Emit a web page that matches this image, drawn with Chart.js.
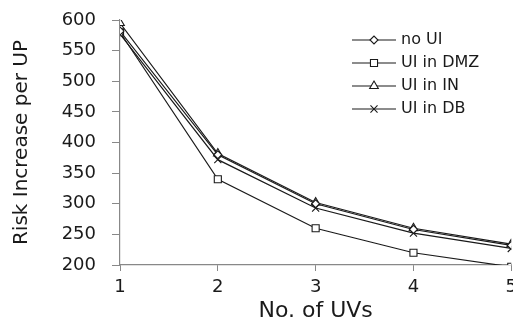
<!DOCTYPE html>
<html>
<head>
<meta charset="utf-8">
<script src="https://cdn.jsdelivr.net/npm/chart.js@4"></script>
<style>
  html, body { margin: 0; padding: 0; background: #fff; overflow: hidden; }
  #wrap { width: 523px; height: 321px; }
</style>
</head>
<body>
<div id="wrap"><canvas id="riskChart"></canvas></div>
<script>
// chart data
const uvCounts = [1, 2, 3, 4, 5];
const noUI    = [582, 380, 300, 258, 232];
const uiDMZ   = [580, 340, 260, 220, 197];
const uiIN    = [595, 382, 302, 260, 234];
const uiDB    = [577, 372, 293, 252, 227];
const seriesNames = ['no UI', 'UI in DMZ', 'UI in IN', 'UI in DB'];
const yTicks = [200, 250, 300, 350, 400, 450, 500, 550, 600];

const FONT = '"DejaVu Sans", sans-serif';
const ink = '#1a1a1a';

const mk = (label, values, style) => ({
  label,
  data: uvCounts.map((x, i) => ({ x, y: values[i] })),
  borderColor: ink,
  borderWidth: 1.2,
  pointStyle: style,
  pointRadius: style === 'rectRot' ? 4 : 5,
  pointBackgroundColor: '#fff',
  pointBorderColor: ink,
  pointBorderWidth: 1.1,
  tension: 0,
  fill: false
});

// legend drawn inside the plot area, like the original figure
const insideLegend = {
  id: 'insideLegend',
  afterDraw(chart) {
    const ctx = chart.ctx;
    const rows = [40, 63, 86, 109];
    ctx.save();
    chart.data.datasets.forEach((ds, i) => {
      const y = rows[i];
      ctx.strokeStyle = ink;
      ctx.lineWidth = 1.2;
      ctx.beginPath();
      ctx.moveTo(352, y);
      ctx.lineTo(396, y);
      ctx.stroke();
      ctx.fillStyle = '#fff';
      ctx.lineWidth = 1.1;
      Chart.helpers.drawPoint(ctx, { pointStyle: ds.pointStyle, radius: ds.pointRadius, borderWidth: 1.1 }, 374, y);
      ctx.fillStyle = ink;
      ctx.font = '16px ' + FONT;
      ctx.textBaseline = 'middle';
      ctx.textAlign = 'left';
      ctx.fillText(ds.label, 401, y);
    });
    ctx.restore();
  }
};

new Chart(document.getElementById('riskChart'), {
  type: 'line',
  data: {
    datasets: [
      mk(seriesNames[0], noUI, 'rectRot'),
      mk(seriesNames[1], uiDMZ, 'rect'),
      mk(seriesNames[2], uiIN, 'triangle'),
      mk(seriesNames[3], uiDB, 'crossRot')
    ]
  },
  options: {
    responsive: true,
    maintainAspectRatio: false,
    animation: false,
    layout: { padding: { top: 20, left: 6, right: 0, bottom: 0 } },
    plugins: { legend: { display: false }, tooltip: { enabled: false } },
    scales: {
      x: {
        type: 'linear',
        min: 1, max: 5,
        afterBuildTicks: s => { s.ticks = uvCounts.map(v => ({ value: v })); },
        ticks: { color: ink, font: { family: FONT, size: 18 }, padding: 6 },
        grid: { drawOnChartArea: false, color: '#888', tickLength: 6 },
        border: { color: '#888', width: 1.2 },
        title: { display: true, text: 'No. of UVs', color: ink, font: { family: FONT, size: 22 }, padding: { top: 0, bottom: -3 } },
        afterFit: s => { s.height = 56; }
      },
      y: {
        min: 200, max: 600,
        afterBuildTicks: s => { s.ticks = yTicks.map(v => ({ value: v })); },
        ticks: { color: ink, font: { family: FONT, size: 18 }, padding: 16 },
        grid: { drawOnChartArea: false, color: '#888', tickLength: 8 },
        border: { color: '#888', width: 1.2 },
        title: { display: true, text: 'Risk Increase per UP', color: ink, font: { family: FONT, size: 20 }, padding: 4 },
        afterFit: s => { s.width = 114; s.paddingTop = 0; s.paddingBottom = 0; }
      }
    }
  },
  plugins: [insideLegend]
});
</script>
</body>
</html>
